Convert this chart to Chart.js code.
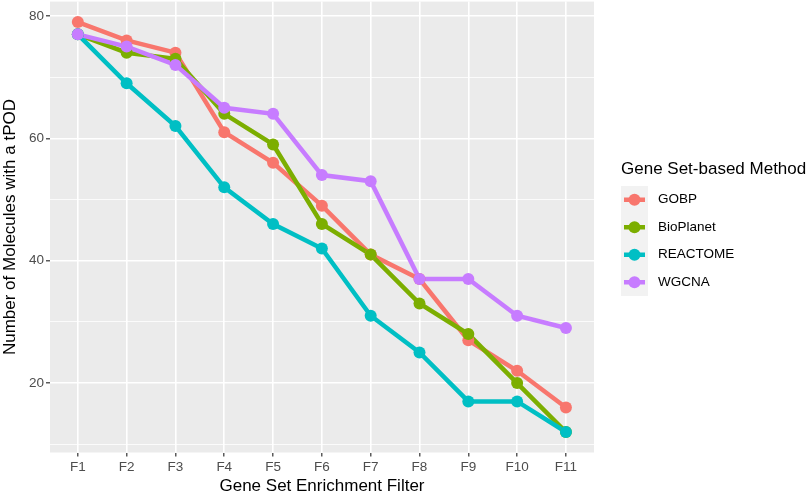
<!DOCTYPE html>
<html>
<head>
<meta charset="utf-8">
<script src="https://cdn.jsdelivr.net/npm/chart.js@4.4.0/dist/chart.umd.min.js"></script>
<style>
  html, body { margin: 0; padding: 0; background: #fff; }
  #box { width: 809px; height: 495px; }
</style>
</head>
<body>
<div id="box"><canvas id="myChart" width="809" height="495"></canvas></div>
<script>
// categories + valeurs
const filters = ['F1', 'F2', 'F3', 'F4', 'F5', 'F6', 'F7', 'F8', 'F9', 'F10', 'F11'];
const gobp      = [79, 76, 74, 61, 56, 49, 41, 37, 27, 22, 16];
const bioPlanet = [77, 74, 73, 64, 59, 46, 41, 33, 28, 20, 12];
const reactome  = [77, 69, 62, 52, 46, 42, 31, 25, 17, 17, 12];
const wgcna     = [77, 75, 72, 65, 64, 54, 53, 37, 37, 31, 29];

const methodNames  = ['GOBP', 'BioPlanet', 'REACTOME', 'WGCNA'];
const methodColors = ['#F8766D', '#7CAE00', '#00BFC4', '#C77CFF'];
const methodValues = [gobp, bioPlanet, reactome, wgcna];

const yTicks = [10, 20, 30, 40, 50, 60, 70, 80];
const yMajor = [20, 40, 60, 80];

const fontFam = '"Liberation Sans", Arial, Helvetica, sans-serif';

function toPoints(values) {
    return values.map((v, i) => ({ x: i + 1, y: v }));
}

function noPad(scale) {
    scale.paddingTop = 0;
    scale.paddingBottom = 0;
    scale.paddingLeft = 0;
    scale.paddingRight = 0;
}

// ggplot dessine toutes les lignes puis tous les points
const datasets = [];
methodNames.forEach((name, i) => {
    datasets.push({
        label: name,
        data: toPoints(methodValues[i]),
        borderColor: methodColors[i],
        backgroundColor: methodColors[i],
        borderWidth: 4.5,
        pointRadius: 0,
        pointHoverRadius: 0,
        order: 7 - i
    });
});
methodNames.forEach((name, i) => {
    datasets.push({
        label: name + ' pts',
        data: toPoints(methodValues[i]),
        showLine: false,
        borderWidth: 0,
        backgroundColor: methodColors[i],
        borderColor: methodColors[i],
        pointRadius: 6,
        pointBorderWidth: 0,
        order: 3 - i
    });
});

// fond gris du panneau
const panelBg = {
    id: 'panelBg',
    beforeDraw(chart) {
        const ctx = chart.ctx;
        const a = chart.chartArea;
        ctx.save();
        ctx.fillStyle = '#ffffff';
        ctx.fillRect(0, 0, chart.width, chart.height);
        ctx.fillStyle = '#EBEBEB';
        ctx.fillRect(a.left, a.top, a.right - a.left, a.bottom - a.top);
        ctx.restore();
    }
};

// légende façon ggplot
const ggLegend = {
    id: 'ggLegend',
    afterDraw(chart) {
        const ctx = chart.ctx;
        const x0 = 621, keyW = 27, keyH = 27.5, top = 186;
        ctx.save();
        ctx.fillStyle = '#000';
        ctx.font = '17px ' + fontFam;
        ctx.textBaseline = 'middle';
        ctx.textAlign = 'left';
        ctx.fillText('Gene Set-based Method', x0, 169.5);

        ctx.fillStyle = '#F2F2F2';
        ctx.fillRect(x0, top, keyW, keyH * methodNames.length);

        methodNames.forEach((name, i) => {
            const cy = top + keyH * i + keyH / 2;
            ctx.strokeStyle = methodColors[i];
            ctx.lineWidth = 4.5;
            ctx.beginPath();
            ctx.moveTo(x0 + 3, cy);
            ctx.lineTo(x0 + keyW - 3, cy);
            ctx.stroke();
            ctx.fillStyle = methodColors[i];
            ctx.beginPath();
            ctx.arc(x0 + keyW / 2, cy, 6, 0, Math.PI * 2);
            ctx.fill();
            ctx.fillStyle = '#000';
            ctx.font = '13.5px ' + fontFam;
            ctx.fillText(name, 658, cy);
        });
        ctx.restore();
    }
};

const config = {
    type: 'line',
    data: { datasets: datasets },
    options: {
        responsive: false,
        animation: false,
        layout: {
            autoPadding: false,
            padding: { left: 0, right: 215, top: 1.6, bottom: 0 }
        },
        plugins: {
            legend: { display: false },
            tooltip: { enabled: false }
        },
        scales: {
            x: {
                type: 'linear',
                min: 0.43,
                max: 11.575,
                afterBuildTicks: (scale) => {
                    scale.ticks = filters.map((f, i) => ({ value: i + 1 }));
                },
                afterFit: (scale) => {
                    scale.height = 42.5;
                    noPad(scale);
                },
                ticks: {
                    autoSkip: false,
                    maxRotation: 0,
                    padding: 3,
                    color: '#4D4D4D',
                    font: { family: fontFam, size: 13.5 },
                    callback: (v) => filters[v - 1]
                },
                grid: {
                    color: '#ffffff',
                    lineWidth: 1.6,
                    tickLength: 4,
                    tickColor: '#333333',
                    tickWidth: 1.2
                },
                border: { display: false },
                title: {
                    display: true,
                    text: 'Gene Set Enrichment Filter',
                    color: '#000',
                    font: { family: fontFam, size: 17, lineHeight: 1.0 },
                    padding: { top: 0, bottom: 0 }
                }
            },
            y: {
                min: 8.65,
                max: 82.35,
                afterBuildTicks: (scale) => {
                    scale.ticks = yTicks.map(v => ({ value: v }));
                },
                afterFit: (scale) => {
                    scale.width = 50;
                    noPad(scale);
                },
                ticks: {
                    padding: 2,
                    color: '#4D4D4D',
                    font: { family: fontFam, size: 13.5 },
                    callback: (v) => yMajor.includes(v) ? String(v) : ''
                },
                grid: {
                    color: '#ffffff',
                    lineWidth: (c) => yMajor.includes(c.tick.value) ? 1.6 : 0.8,
                    tickLength: 4,
                    tickColor: (c) => yMajor.includes(c.tick.value) ? '#333333' : 'rgba(0,0,0,0)',
                    tickWidth: 1.2
                },
                border: { display: false },
                title: {
                    display: true,
                    text: 'Number of Molecules with a tPOD',
                    color: '#000',
                    font: { family: fontFam, size: 17, lineHeight: 1.0 },
                    padding: { top: 1.5, bottom: 0 }
                }
            }
        }
    },
    plugins: [panelBg, ggLegend]
};

window.addEventListener('load', (event) => {
    const myChart = new Chart(document.getElementById('myChart'), config);
});
</script>
</body>
</html>
